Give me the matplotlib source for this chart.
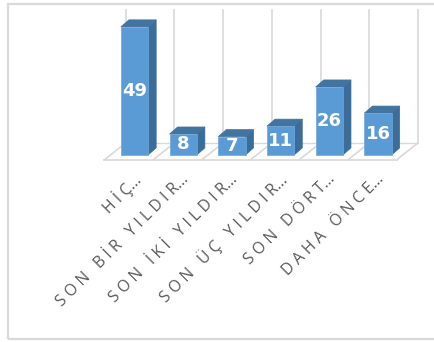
import numpy as np
import matplotlib.pyplot as plt
from matplotlib.patches import Polygon, Rectangle

# data
categories = ['HİÇ', 'SON BİR YILDIR', 'SON İKİ YILDIR',
              'SON ÜÇ YILDIR', 'SON DÖRT', 'DAHA ÖNCE']
values = [49, 8, 7, 11, 26, 16]

front_col = '#5B9BD5'
side_col = '#3A6D99'
top_col = '#41749F'
grid_col = '#D9D9D9'

fig = plt.figure(figsize=(4.34, 3.42), dpi=100)
ax = fig.add_axes([0, 0, 1, 1])
ax.set_xlim(-2.762, 6.150)
ax.set_ylim(-71.6, 59.3)
ax.axis('off')

n = len(values)
x = np.arange(n)
w = 0.56
dx, dy = 0.165, 2.7          # bar depth
fdx, fdy = 0.44, 6.5         # floor depth
f_front = -1.9

# back wall grid lines and floor
bounds = np.arange(n + 1) - 0.5
for b in bounds:
    ax.plot([b + 0.32, b + 0.32], [f_front + fdy, 55.5], color=grid_col, lw=1.2, zorder=1)
    ax.plot([b - 0.12, b - 0.12 + fdx], [f_front, f_front + fdy], color=grid_col, lw=1.2, zorder=1)
ax.plot([bounds[0] - 0.12, bounds[-1] - 0.12], [f_front, f_front], color=grid_col, lw=1.2, zorder=1)
ax.plot([bounds[0] - 0.12 + fdx, bounds[-1] - 0.12 + fdx], [f_front + fdy, f_front + fdy],
        color=grid_col, lw=1.0, zorder=1)

# bars
bars = ax.bar(x, values, width=w, color=front_col, edgecolor='#6FA8DC', lw=0.5, zorder=3)
for xi, v in zip(x, values):
    r = xi + w / 2
    l = xi - w / 2
    ax.add_patch(Polygon([(r, 0), (r + dx, dy), (r + dx, v + dy), (r, v)],
                         closed=True, facecolor=side_col, edgecolor=side_col, lw=0.5, zorder=2))
    ax.add_patch(Polygon([(l, v), (r, v), (r + dx, v + dy), (l + dx, v + dy)],
                         closed=True, facecolor=top_col, edgecolor=top_col, lw=0.5, zorder=2))
    ax.text(xi, v / 2, str(v), color='white', fontsize=13, fontweight='bold',
            ha='center', va='center', zorder=4)

# category labels (letter spaced, truncated)
for xi, c in zip(x, categories):
    spaced = '\u2009\u200a'.join(c) + '...'
    ax.text(xi + 0.07, -8.4, spaced, rotation=45, rotation_mode='anchor',
            ha='right', va='center', color='#595959', fontsize=11.3,
            family=['Open Sans', 'DejaVu Sans'], zorder=4)

# outer frame
fig.add_artist(Rectangle((7.5 / 434, 3 / 342), 440 / 434, 335 / 342,
                         transform=fig.transFigure, fill=False,
                         edgecolor=grid_col, lw=1.6))

fig.savefig('out.png', dpi=100)
